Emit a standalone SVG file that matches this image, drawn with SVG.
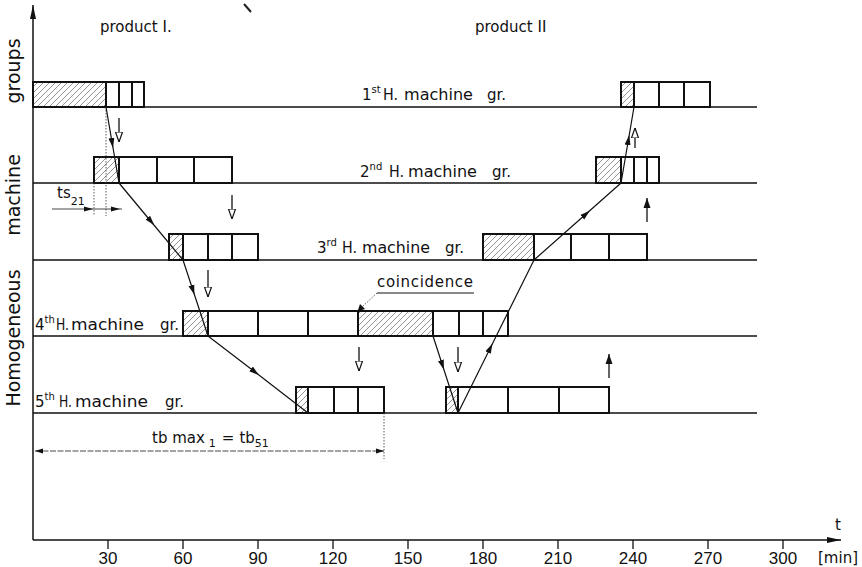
<svg xmlns="http://www.w3.org/2000/svg" width="862" height="567" viewBox="0 0 862 567">
<style>
text{font-family:"DejaVu Sans","Liberation Sans",sans-serif;fill:#111;font-size:15px}
.num{font-family:"Liberation Sans",sans-serif;font-size:17px;text-anchor:middle}
.sup{font-size:10px}
.ylab{font-size:19px;text-anchor:middle}
.base{stroke:#111;stroke-width:1.3;fill:none}
.cell{fill:#fff;stroke:#111;stroke-width:2}
.hat{fill:url(#hatch);stroke:#111;stroke-width:2}
.con{stroke:#111;stroke-width:1.2;fill:none;marker-mid:url(#mid)}
.dot{stroke:#333;stroke-width:0.8;fill:none;stroke-dasharray:1.5 1.5}
.hol{stroke:#111;stroke-width:1.3;fill:none;marker-end:url(#hol)}
.sol{stroke:#111;stroke-width:1.3;fill:none;marker-end:url(#sol)}
</style>
<defs>
<pattern id="hatch" patternUnits="userSpaceOnUse" width="6" height="6">
<rect width="6" height="6" fill="#fff"/>
<path d="M-1,7 L7,-1 M-1,1 L1,-1 M5,7 L7,5" stroke="#666" stroke-width="0.7"/>
</pattern>
<marker id="mid" viewBox="0 0 10 10" refX="5" refY="5" markerWidth="10" markerHeight="10" markerUnits="userSpaceOnUse" orient="auto">
<path d="M0,2 L10,5 L0,8 z" fill="#111"/>
</marker>
<marker id="hol" viewBox="0 0 10 10" refX="10" refY="5" markerWidth="10" markerHeight="10" markerUnits="userSpaceOnUse" orient="auto">
<path d="M0,1.5 L10,5 L0,8.5 z" fill="#fff" stroke="#111" stroke-width="1.2"/>
</marker>
<marker id="sol" viewBox="0 0 10 10" refX="10" refY="5" markerWidth="10" markerHeight="10" markerUnits="userSpaceOnUse" orient="auto">
<path d="M0,1.5 L10,5 L0,8.5 z" fill="#111"/>
</marker>
<marker id="ax" viewBox="0 0 14 10" refX="14" refY="5" markerWidth="14" markerHeight="10" markerUnits="userSpaceOnUse" orient="auto">
<path d="M0,2 L14,5 L0,8 z" fill="#111"/>
</marker>
<marker id="dim" viewBox="0 0 10 10" refX="10" refY="5" markerWidth="10" markerHeight="8" markerUnits="userSpaceOnUse" orient="auto-start-reverse">
<path d="M0,2 L10,5 L0,8 z" fill="#111"/>
</marker>
</defs>

<g id="axes">
<line x1="33" y1="540" x2="33" y2="5" stroke="#111" stroke-width="1.5" marker-end="url(#ax)"/>
<line x1="33" y1="540" x2="841" y2="540" stroke="#111" stroke-width="1.5" marker-end="url(#ax)"/>
<g stroke="#111" stroke-width="1.3">
<line x1="108" y1="540" x2="108" y2="549"/><line x1="183" y1="540" x2="183" y2="549"/><line x1="258" y1="540" x2="258" y2="549"/><line x1="333" y1="540" x2="333" y2="549"/><line x1="408" y1="540" x2="408" y2="549"/><line x1="483" y1="540" x2="483" y2="549"/><line x1="558" y1="540" x2="558" y2="549"/><line x1="633" y1="540" x2="633" y2="549"/><line x1="708" y1="540" x2="708" y2="549"/><line x1="783" y1="540" x2="783" y2="549"/>
</g>
<text class="num" x="108" y="564">30</text><text class="num" x="183" y="564">60</text><text class="num" x="258" y="564">90</text><text class="num" x="333" y="564">120</text><text class="num" x="408" y="564">150</text><text class="num" x="483" y="564">180</text><text class="num" x="558" y="564">210</text><text class="num" x="633" y="564">240</text><text class="num" x="708" y="564">270</text><text class="num" x="783" y="564">300</text>
<text x="818" y="563" font-size="15">[min]</text>
<text x="835" y="530" font-size="13">t</text>
<text class="ylab" transform="translate(20,338) rotate(-90)">Homogeneous</text>
<text class="ylab" transform="translate(20,195) rotate(-90)">machine</text>
<text class="ylab" transform="translate(20,71) rotate(-90)">groups</text>
<text x="100" y="32" font-size="16">product I.</text>
<text x="475" y="32" font-size="16">product II</text>
<path d="M244,4 L251,12" stroke="#222" stroke-width="2"/>
</g>

<g id="row1">
<line class="base" x1="33" y1="107" x2="757" y2="107"/>
<rect class="hat" x="33" y="82" width="73" height="25"/>
<rect class="cell" x="106" y="82" width="13" height="25"/><rect class="cell" x="119" y="82" width="13" height="25"/><rect class="cell" x="132" y="82" width="12" height="25"/>
<rect class="hat" x="621" y="82" width="13" height="25"/>
<rect class="cell" x="634" y="82" width="25" height="25"/><rect class="cell" x="659" y="82" width="25" height="25"/><rect class="cell" x="684" y="82" width="26" height="25"/>
<text x="362" y="100">1<tspan class="sup" dy="-7">st</tspan></text>
<text x="383" y="100" textLength="15" lengthAdjust="spacingAndGlyphs">H.</text>
<text x="404" y="100" textLength="69" lengthAdjust="spacingAndGlyphs">machine</text>
<text x="487" y="100">gr.</text>
</g>

<g id="row2">
<line class="base" x1="33" y1="183" x2="757" y2="183"/>
<rect class="hat" x="94" y="157" width="25" height="26"/>
<rect class="cell" x="119" y="157" width="38" height="26"/><rect class="cell" x="157" y="157" width="37" height="26"/><rect class="cell" x="194" y="157" width="38" height="26"/>
<rect class="hat" x="596" y="157" width="25" height="26"/>
<rect class="cell" x="621" y="157" width="13" height="26"/><rect class="cell" x="634" y="157" width="13" height="26"/><rect class="cell" x="647" y="157" width="12" height="26"/>
<text x="360" y="177">2<tspan class="sup" dy="-7">nd</tspan></text>
<text x="389" y="177" textLength="15" lengthAdjust="spacingAndGlyphs">H.</text>
<text x="408" y="177" textLength="69" lengthAdjust="spacingAndGlyphs">machine</text>
<text x="492" y="177">gr.</text>
</g>

<g id="row3">
<line class="base" x1="33" y1="260" x2="757" y2="260"/>
<rect class="hat" x="169" y="234" width="14" height="26"/>
<rect class="cell" x="183" y="234" width="25" height="26"/><rect class="cell" x="208" y="234" width="24" height="26"/><rect class="cell" x="232" y="234" width="26" height="26"/>
<rect class="hat" x="483" y="234" width="51" height="26"/>
<rect class="cell" x="534" y="234" width="37" height="26"/><rect class="cell" x="571" y="234" width="38" height="26"/><rect class="cell" x="609" y="234" width="38" height="26"/>
<text x="317" y="253">3<tspan class="sup" dy="-7">rd</tspan></text>
<text x="342" y="253" textLength="15" lengthAdjust="spacingAndGlyphs">H.</text>
<text x="362" y="253" textLength="68" lengthAdjust="spacingAndGlyphs">machine</text>
<text x="445" y="253">gr.</text>
</g>

<g id="row4">
<line class="base" x1="33" y1="336" x2="757" y2="336"/>
<rect class="hat" x="183" y="311" width="25" height="25"/>
<rect class="cell" x="208" y="311" width="50" height="25"/><rect class="cell" x="258" y="311" width="50" height="25"/><rect class="cell" x="308" y="311" width="50" height="25"/>
<rect class="hat" x="358" y="311" width="75" height="25"/>
<rect class="cell" x="433" y="311" width="26" height="25"/><rect class="cell" x="459" y="311" width="24" height="25"/><rect class="cell" x="483" y="311" width="25" height="25"/>
<text x="35" y="330">4<tspan class="sup" dy="-7">th</tspan></text>
<text x="56" y="330" textLength="13" lengthAdjust="spacingAndGlyphs">H.</text>
<text x="71" y="330" textLength="73" lengthAdjust="spacingAndGlyphs">machine</text>
<text x="160" y="330">gr.</text>
</g>

<g id="row5">
<line class="base" x1="33" y1="413" x2="757" y2="413"/>
<rect class="hat" x="296" y="387" width="12" height="26"/>
<rect class="cell" x="308" y="387" width="26" height="26"/><rect class="cell" x="334" y="387" width="24" height="26"/><rect class="cell" x="358" y="387" width="26" height="26"/>
<rect class="hat" x="446" y="387" width="12" height="26"/>
<rect class="cell" x="458" y="387" width="50" height="26"/><rect class="cell" x="508" y="387" width="51" height="26"/><rect class="cell" x="559" y="387" width="50" height="26"/>
<text x="35" y="407">5<tspan class="sup" dy="-7">th</tspan></text>
<text x="59" y="407" textLength="13" lengthAdjust="spacingAndGlyphs">H.</text>
<text x="75" y="407" textLength="73" lengthAdjust="spacingAndGlyphs">machine</text>
<text x="165" y="407">gr.</text>
</g>

<g id="annotations">
<line class="dot" x1="106" y1="107" x2="106" y2="216"/>
<line class="dot" x1="94" y1="183" x2="94" y2="216"/>
<line x1="52" y1="209" x2="122" y2="209" stroke="#333" stroke-width="0.9"/>
<path d="M84,206.5 L93,209 L84,211.5 z M111,206.5 L120,209 L111,211.5 z" fill="#111"/>
<text x="57" y="198" font-size="16">ts<tspan font-size="11" dy="7">21</tspan></text>
<text x="377" y="287" font-size="16" textLength="96" lengthAdjust="spacing">coincidence</text>
<line x1="377" y1="293" x2="474" y2="293" stroke="#111" stroke-width="1"/>
<line class="dot" x1="377" y1="293" x2="361" y2="308"/>
<path d="M357.5,311.5 L360,304 L365,309 z" fill="#111"/>
<line class="dot" x1="384" y1="413" x2="384" y2="459"/>
<line x1="35" y1="451" x2="384" y2="451" stroke="#333" stroke-width="0.9" stroke-dasharray="6 1.5" marker-start="url(#dim)" marker-end="url(#dim)"/>
<text x="152" y="443" font-size="16">tb max<tspan font-size="11" dx="4" dy="4">1</tspan><tspan dx="6" dy="-4">=</tspan><tspan dx="5">tb</tspan><tspan font-size="11" dy="4">51</tspan></text>
</g>

<g id="connectors">
<path class="con" d="M106,107 L112.2,143 L119,183"/>
<path class="con" d="M119,183 L151,221.5 L183,260"/>
<path class="con" d="M183,260 L192.9,290 L208,336"/>
<path class="con" d="M208,336 L255,372 L308,413"/>
<path class="con" d="M433,336 L442.4,365 L458,413"/>
<path class="con" d="M458,413 L490.3,348 L534,260"/>
<path class="con" d="M534,260 L586,214 L621,183"/>
<path class="con" d="M621,183 L628.4,140 L634,107"/>
<line class="hol" x1="119" y1="118" x2="119" y2="142"/>
<line class="hol" x1="232" y1="195" x2="232" y2="219"/>
<line class="hol" x1="208" y1="270" x2="208" y2="297"/>
<line class="hol" x1="359" y1="347" x2="359" y2="371"/>
<line class="hol" x1="458" y1="347" x2="458" y2="372"/>
<line class="hol" x1="635" y1="148" x2="635" y2="128"/>
<line class="sol" x1="647" y1="222" x2="647" y2="198"/>
<line class="sol" x1="609" y1="378" x2="609" y2="354"/>
</g>
</svg>
